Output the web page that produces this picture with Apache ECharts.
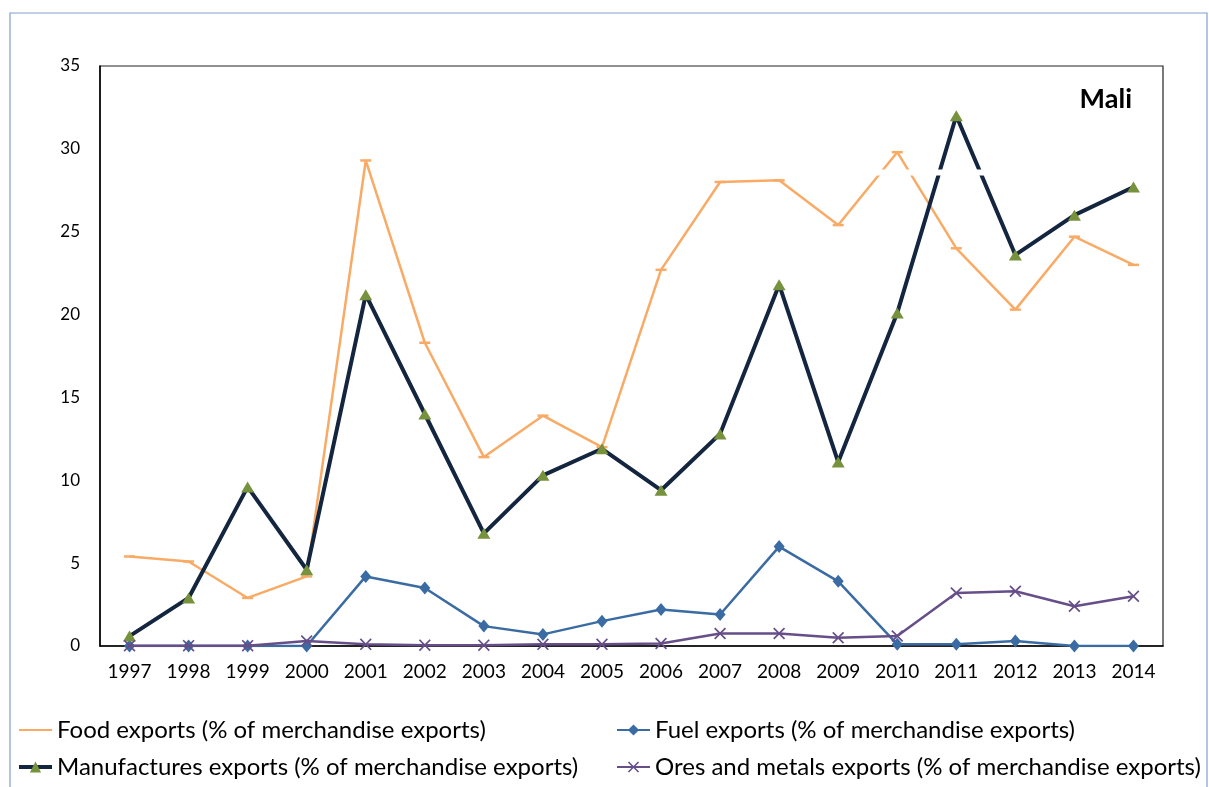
<!DOCTYPE html>
<html>
<head>
<meta charset="utf-8">
<title>Mali merchandise exports</title>
<script src="https://cdn.jsdelivr.net/npm/echarts@6/dist/echarts.min.js"></script>
<style>
  html, body { margin: 0; padding: 0; background: #fff; }
  #chart { width: 1209px; height: 787px; }
</style>
</head>
<body>
<div id="chart"></div>
<script>
// Export composition for Mali, share of merchandise exports (%)
const years = ['1997', '1998', '1999', '2000', '2001', '2002', '2003', '2004', '2005',
               '2006', '2007', '2008', '2009', '2010', '2011', '2012', '2013', '2014'];
const foodExports = [5.4, 5.1, 2.9, 4.2, 29.3, 18.3, 11.4, 13.9, 12.0,
                     22.7, 28.0, 28.1, 25.4, 29.8, 24.0, 20.3, 24.7, 23.0];
const fuelExports = [0, 0, 0, 0, 4.2, 3.5, 1.2, 0.7, 1.5,
                     2.2, 1.9, 6.0, 3.9, 0.1, 0.1, 0.3, 0, 0];
const manufacturesExports = [0.6, 2.9, 9.6, 4.6, 21.2, 14.0, 6.8, 10.3, 11.9,
                             9.4, 12.8, 21.8, 11.1, 20.1, 32.0, 23.6, 26.0, 27.7];
const oresMetalsExports = [0.02, 0.02, 0.02, 0.3, 0.1, 0.05, 0.05, 0.1, 0.1,
                           0.15, 0.75, 0.75, 0.5, 0.6, 3.2, 3.3, 2.4, 3.0];
const yTicks = { min: 0, max: 35, interval: 5 };

const FONT = 'Lato';
const names = {
  food: 'Food exports (% of merchandise exports)',
  fuel: 'Fuel exports (% of merchandise exports)',
  manuf: 'Manufactures exports (% of merchandise exports)',
  ores: 'Ores and metals exports (% of merchandise exports)'
};

// thin diagonal cross marker
const crossPath = 'path://M1,0 L5,4 L9,0 L10,1 L6,5 L10,9 L9,10 L5,6 L1,10 L0,9 L4,5 L0,1 Z';
// short horizontal dash marker
const dashPath = 'path://M0,0 L10,0 L10,2 L0,2 Z';
// plain line swatch for the food legend entry
const lineSwatch = 'path://M0,0 L33,0 L33,2 L0,2 Z';

const chart = echarts.init(document.getElementById('chart'), null, { renderer: 'canvas' });

const legendText = { fontFamily: FONT, fontSize: 24, color: '#000', lineHeight: 24 };

chart.setOption({
  backgroundColor: '#fff',
  animation: false,
  grid: {
    left: 100, right: 46, top: 66, bottom: 141,
    show: true, borderColor: '#222', borderWidth: 1.2, backgroundColor: 'transparent'
  },
  xAxis: {
    type: 'category',
    data: years,
    boundaryGap: true,
    axisLine: { show: true, lineStyle: { color: '#000', width: 1.5 } },
    axisTick: { show: false },
    axisLabel: { fontFamily: FONT, fontSize: 19, color: '#000', margin: 16, interval: 0 },
    splitLine: { show: false }
  },
  yAxis: {
    type: 'value',
    min: yTicks.min, max: yTicks.max, interval: yTicks.interval,
    axisLine: { show: true, lineStyle: { color: '#000', width: 1.5 } },
    axisTick: { show: false },
    axisLabel: { fontFamily: FONT, fontSize: 17, color: '#000', margin: 20 },
    splitLine: { show: false }
  },
  legend: [
    {
      orient: 'vertical', left: 12, top: 713,
      itemWidth: 33, itemHeight: 14, itemGap: 13,
      textStyle: legendText,
      data: [
        { name: names.food, icon: lineSwatch },
        { name: names.manuf, lineStyle: { width: 4 } }
      ]
    },
    {
      orient: 'vertical', left: 611, top: 713,
      itemWidth: 33, itemHeight: 14, itemGap: 13,
      textStyle: legendText,
      data: [names.fuel, names.ores]
    }
  ],
  series: [
    {
      name: names.food, type: 'line', data: foodExports,
      symbol: dashPath, symbolSize: [11, 2.5],
      lineStyle: { color: '#F9AB66', width: 2.5 },
      itemStyle: { color: '#F9AB66' },
      z: 2
    },
    {
      name: names.fuel, type: 'line', data: fuelExports,
      symbol: 'diamond', symbolSize: [11, 13],
      lineStyle: { color: '#3A6BA3', width: 2.5 },
      itemStyle: { color: '#3A6BA3' },
      z: 3
    },
    {
      name: names.manuf, type: 'line', data: manufacturesExports,
      symbol: 'triangle', symbolSize: [13, 11],
      lineStyle: { color: '#14253F', width: 4 },
      itemStyle: { color: '#76923C' },
      z: 4
    },
    {
      name: names.ores, type: 'line', data: oresMetalsExports,
      symbol: crossPath, symbolSize: 12,
      lineStyle: { color: '#664E88', width: 2.5 },
      itemStyle: { color: '#664E88' },
      z: 5
    }
  ],
  graphic: [
    {
      type: 'rect', silent: true, z: 0,
      shape: { x: 10, y: 13, width: 1197, height: 800 },
      style: { fill: 'none', stroke: '#7F9FD0', lineWidth: 1.2 }
    },
    {
      // blank text frame lying over the plot
      type: 'rect', silent: true, z: 50,
      shape: { x: 862, y: 169.5, width: 136, height: 6 },
      style: { fill: '#fff' }
    },
    {
      type: 'text', z: 60, x: 1132, y: 99,
      style: {
        text: 'Mali', fontFamily: FONT, fontSize: 27, fontWeight: 'bold',
        fill: '#000', align: 'right', verticalAlign: 'middle'
      }
    }
  ]
});
</script>
</body>
</html>
